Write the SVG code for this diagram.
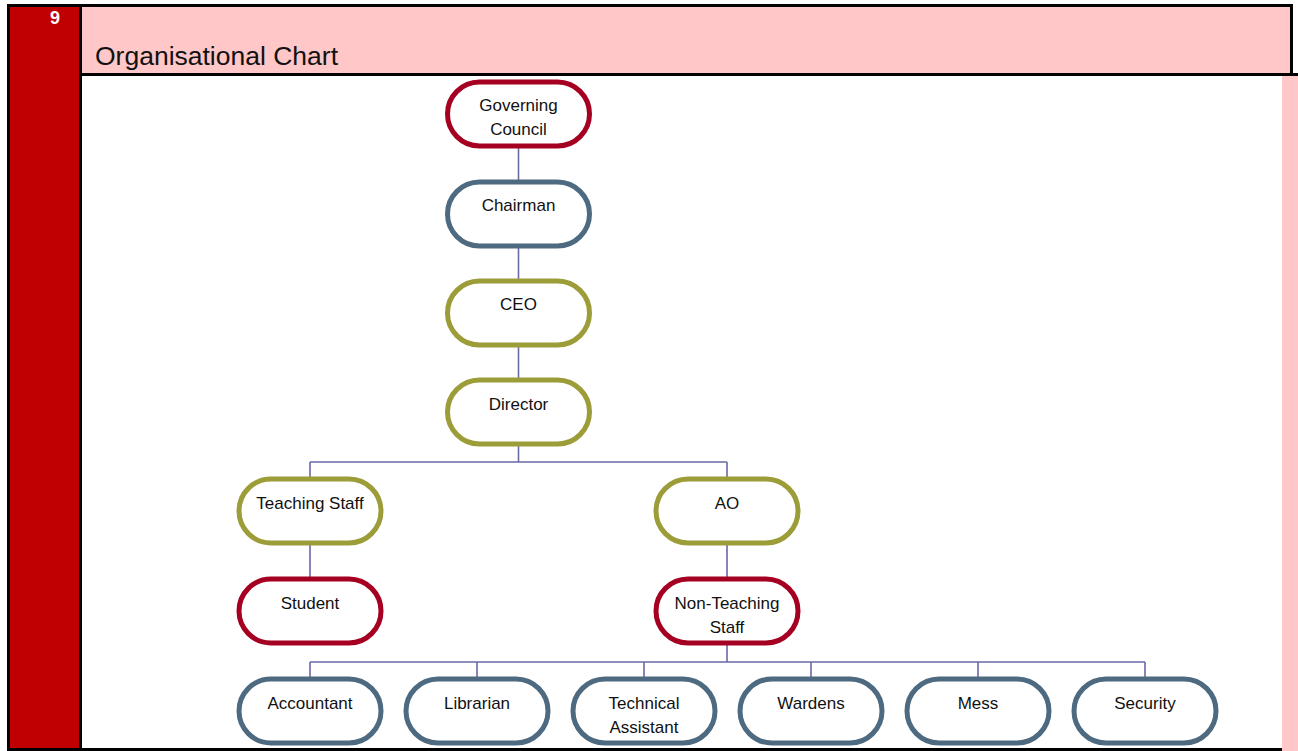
<svg xmlns="http://www.w3.org/2000/svg" width="1298" height="751" viewBox="0 0 1298 751">
<style>
.n rect{fill:#fff;stroke-width:5}
.red rect{stroke:#a50021}
.blue rect{stroke:#4e6a80}
.olive rect{stroke:#9c9c38}
.n text{font-family:"Liberation Sans",Arial,sans-serif;font-size:17px;fill:#111;text-anchor:middle}
#connectors path{fill:none;stroke:#6a6aa6;stroke-width:1.6}
</style>
<rect x="0" y="0" width="1298" height="751" fill="#fff"/>
<g id="frame">
<rect x="1282" y="76" width="16" height="675" fill="#ffc7c7"/>
<rect x="81" y="7" width="1210" height="67" fill="#ffc7c7"/>
<rect x="9" y="7" width="71" height="742" fill="#c00000"/>
<path d="M8.5 751V5.5H1291.5V74.5M8.5 749.5H1282M80.5 6V749M80 74.5H1298" fill="none" stroke="#000" stroke-width="3"/>
<text x="55" y="24" font-family="Liberation Sans,Arial,sans-serif" font-weight="bold" font-size="18" fill="#fff" text-anchor="middle">9</text>
<text x="95" y="65" font-family="Liberation Sans,Arial,sans-serif" font-size="25" fill="#111" textLength="243" lengthAdjust="spacingAndGlyphs">Organisational Chart</text>
</g>
<g id="connectors">
<path d="M518.5 146V180M518.5 246V279M518.5 345V378"/>
<path d="M518.5 444V462M310 462H727M310 462V477M727 462V477"/>
<path d="M310 543V577M727 543V577"/>
<path d="M727 643V662M310 662H1145M310 662V677M477 662V677M644 662V677M811 662V677M978 662V677M1145 662V677"/>
</g>
<g id="governing-council" class="n red"><rect x="447.5" y="82" width="142" height="64" rx="32"/><text x="518.5" y="111">Governing</text><text x="518.5" y="135">Council</text></g>
<g id="chairman" class="n blue"><rect x="447.5" y="182" width="142" height="64" rx="32"/><text x="518.5" y="211">Chairman</text></g>
<g id="ceo" class="n olive"><rect x="447.5" y="281" width="142" height="64" rx="32"/><text x="518.5" y="310">CEO</text></g>
<g id="director" class="n olive"><rect x="447.5" y="380" width="142" height="64" rx="32"/><text x="518.5" y="410">Director</text></g>
<g id="teaching-staff" class="n olive"><rect x="239" y="479" width="142" height="64" rx="32"/><text x="310" y="509">Teaching Staff</text></g>
<g id="ao" class="n olive"><rect x="656" y="479" width="142" height="64" rx="32"/><text x="727" y="509">AO</text></g>
<g id="student" class="n red"><rect x="239" y="579" width="142" height="64" rx="32"/><text x="310" y="609">Student</text></g>
<g id="non-teaching-staff" class="n red"><rect x="656" y="579" width="142" height="64" rx="32"/><text x="727" y="609">Non-Teaching</text><text x="727" y="633">Staff</text></g>
<g id="accountant" class="n blue"><rect x="239" y="679" width="142" height="64" rx="32"/><text x="310" y="709">Accountant</text></g>
<g id="librarian" class="n blue"><rect x="406" y="679" width="142" height="64" rx="32"/><text x="477" y="709">Librarian</text></g>
<g id="technical-assistant" class="n blue"><rect x="573" y="679" width="142" height="64" rx="32"/><text x="644" y="709">Technical</text><text x="644" y="733">Assistant</text></g>
<g id="wardens" class="n blue"><rect x="740" y="679" width="142" height="64" rx="32"/><text x="811" y="709">Wardens</text></g>
<g id="mess" class="n blue"><rect x="907" y="679" width="142" height="64" rx="32"/><text x="978" y="709">Mess</text></g>
<g id="security" class="n blue"><rect x="1074" y="679" width="142" height="64" rx="32"/><text x="1145" y="709">Security</text></g>
</svg>
